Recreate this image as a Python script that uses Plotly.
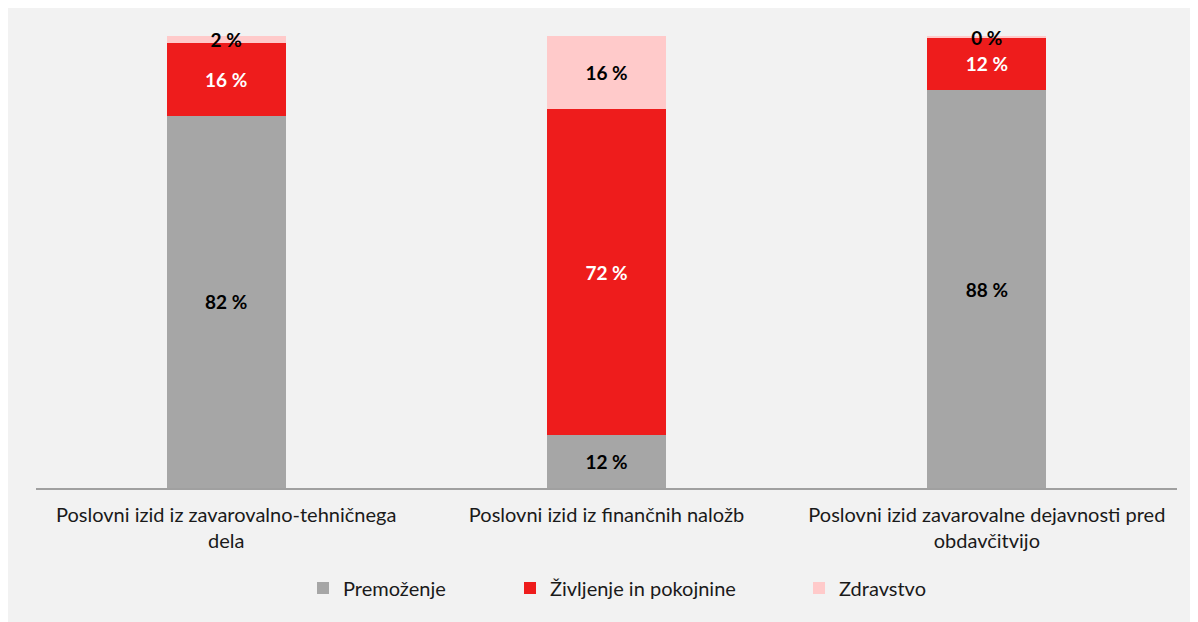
import plotly.graph_objects as go

categories = [
    "Poslovni izid iz zavarovalno-tehničnega<br>dela",
    "Poslovni izid iz finančnih naložb",
    "Poslovni izid zavarovalne dejavnosti pred<br>obdavčitvijo",
]
premozenje = [82.4, 11.7, 88.0]
zivljenje = [16.1, 72.1, 11.7]
zdravstvo = [1.5, 16.2, 0.3]

series_names = ["Premoženje", "Življenje in pokojnine", "Zdravstvo"]
colors = ["#a6a6a6", "#ee1c1c", "#ffcaca"]
text_colors = ["black", "white", "black"]

FONT = "Lato"

fig = go.Figure()
for i, (name, values) in enumerate(zip(series_names, [premozenje, zivljenje, zdravstvo])):
    legend_id = "legend" if i == 0 else "legend" + str(i + 1)
    fig.add_trace(go.Bar(
        x=categories,
        y=values,
        name=name,
        marker=dict(color=colors[i], line=dict(width=0)),
        texttemplate="%{y:.0f} %",
        textposition="inside",
        insidetextanchor="middle",
        constraintext="none",
        cliponaxis=False,
        textfont=dict(family=FONT, size=19, color=text_colors[i], weight="bold"),
        legend=legend_id,
    ))

# plot area in px: x 28..1169, y 28..480
legend_style = dict(orientation="h", yanchor="middle", xanchor="left",
                    bgcolor="rgba(0,0,0,0)", itemwidth=30,
                    font=dict(family=FONT, size=20, color="#1a1a1a"))
leg_y = (480 - 580) / 452
fig.update_layout(
    barmode="stack",
    bargap=0.687,
    width=1198,
    height=622,
    margin=dict(l=28, r=29, t=28, b=142),
    paper_bgcolor="#f2f2f2",
    plot_bgcolor="rgba(0,0,0,0)",
    font=dict(family=FONT, size=20, color="#1a1a1a"),
    showlegend=True,
    legend=dict(x=(295 - 28) / 1141, y=leg_y, **legend_style),
    legend2=dict(x=(502 - 28) / 1141, y=leg_y, **legend_style),
    legend3=dict(x=(791 - 28) / 1141, y=leg_y, **legend_style),
    xaxis=dict(showline=True, linecolor="#a0a0a0", linewidth=2, ticks="",
               ticklabelstandoff=8,
               tickfont=dict(family=FONT, size=20, color="#1a1a1a")),
    yaxis=dict(range=[0, 100], visible=False, showgrid=False),
)

fig.write_html("out.html")
